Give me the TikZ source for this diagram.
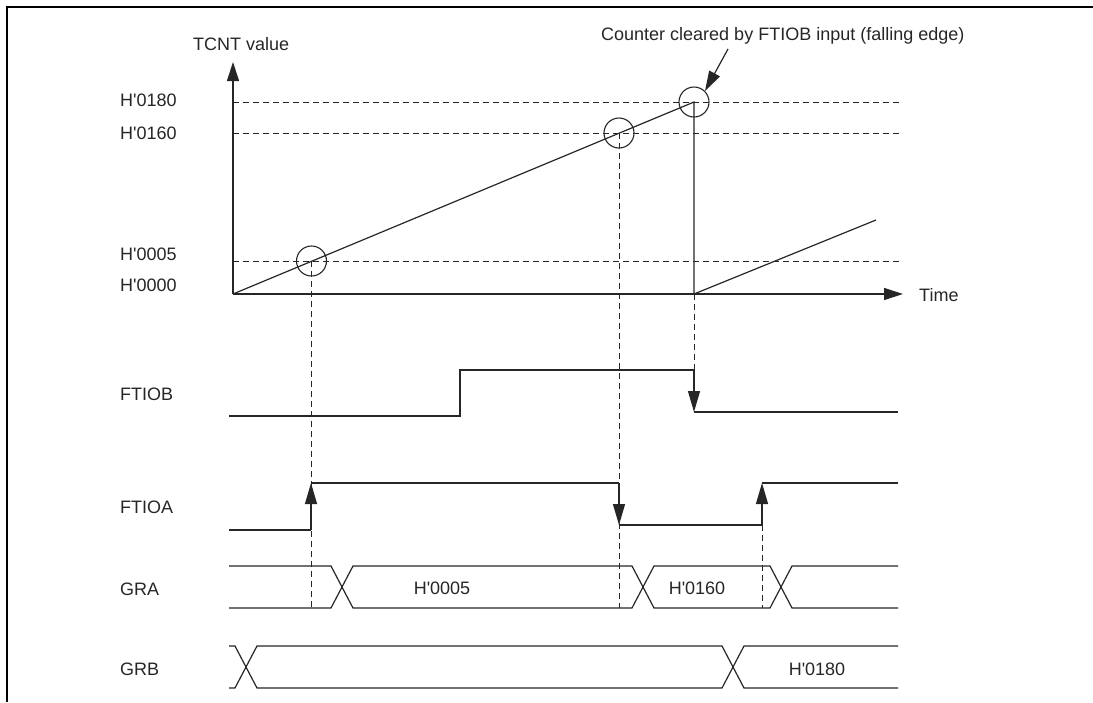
\documentclass[tikz,border=0pt]{standalone}
\usepackage{fontspec}
\setmainfont{Liberation Sans}
\usetikzlibrary{arrows.meta}
\newcommand{\hx}{H\textquotesingle}
\begin{document}
\begin{tikzpicture}[x=1pt,y=-1pt,
  txt/.style={inner sep=0pt,font=\fontsize{18}{21}\selectfont,text=black!85},
  lbl/.style={txt,anchor=base west},
  val/.style={txt,anchor=base},
  sig/.style={line width=1.2pt,black!85},
  guide/.style={line width=1pt,black!85,dash pattern=on 6pt off 4pt},
  edge/.style={sig,-{Triangle[length=21pt,width=12pt]}},
  axisarrow/.style={sig,-{Triangle[length=19pt,width=12pt]}},
  matchcircle/.style={circle,draw,line width=1.1pt,black!85,minimum size=30pt,inner sep=0pt}]
\useasboundingbox (0,0) rectangle (1093,702);
% frame
\draw[line width=2.4pt] (7,702) -- (7,7) -- (1093,7);
% axes
\coordinate (O) at (233,294);
\coordinate (Ytip) at (233,62);
\coordinate (Xtip) at (903,294);
\draw[axisarrow] (O) -- (Ytip);
\draw[axisarrow] (O) -- (Xtip);
\node[lbl] (tcnt) at (193,50) {TCNT value};
\node[lbl] (time) at (919,301) {Time};
\node[lbl] (l180) at (120,106.7) {\hx0180};
\node[lbl] (l160) at (120,139.3) {\hx0160};
\node[lbl] (l005) at (120,260.7) {\hx0005};
\node[lbl] (l000) at (120,291.7) {\hx0000};
% compare levels
\coordinate (h180a) at (233,102); \coordinate (h180b) at (900,102);
\coordinate (h160a) at (233,133); \coordinate (h160b) at (900,133);
\coordinate (h005a) at (233,261); \coordinate (h005b) at (900,261);
\draw[guide] (h180a) -- (h180b);
\draw[guide] (h160a) -- (h160b);
\draw[guide] (h005a) -- (h005b);
% counter ramp
\coordinate (peak) at (694,102);
\coordinate (clr) at (694,294);
\coordinate (ramp2) at (876,220);
\draw[sig] (O) -- (peak) -- (clr) -- (ramp2);
% match circles
\node[matchcircle] (c005) at (311.5,261) {};
\node[matchcircle] (c160) at (619,133) {};
\node[matchcircle] (c180) at (694,102) {};
% annotation
\node[lbl] (note) at (601,40.7) {Counter cleared by FTIOB input (falling edge)};
\coordinate (noteS) at (728,49);
\draw[sig,-{Triangle[length=20pt,width=12pt]}] (noteS) -- (c180.north east);
% signal labels
\node[lbl] (nB) at (120,400) {FTIOB};
\node[lbl] (nA) at (120,513) {FTIOA};
\node[lbl] (nGRA) at (120,595) {GRA};
\node[lbl] (nGRB) at (120,675) {GRB};
% FTIOB
\coordinate (b0) at (229,416); \coordinate (b1) at (460,416);
\coordinate (b2) at (460,370); \coordinate (b3) at (694,370);
\coordinate (b4) at (694,412); \coordinate (b5) at (898,412);
\draw[sig] (b0) -- (b1) -- (b2) -- (b3);
\draw[edge] (b3) -- (b4);
\draw[sig] (b4) -- (b5);
% FTIOA
\coordinate (a0) at (229,530); \coordinate (a1) at (311,530);
\coordinate (a2) at (311,483); \coordinate (a3) at (619,483);
\coordinate (a4) at (619,525); \coordinate (a5) at (762,525);
\coordinate (a6) at (762,483); \coordinate (a7) at (898,483);
\draw[sig] (a0) -- (a1);
\draw[edge] (a1) -- (a2);
\draw[sig] (a2) -- (a3);
\draw[edge] (a3) -- (a4);
\draw[sig] (a4) -- (a5);
\draw[edge] (a5) -- (a6);
\draw[sig] (a6) -- (a7);
% GRA bus
\draw[sig] (229,566) -- (331,566) -- (353,608) -- (632,608) -- (654,566) -- (770,566) -- (792,608) -- (898,608);
\draw[sig] (229,608) -- (331,608) -- (353,566) -- (632,566) -- (654,608) -- (770,608) -- (792,566) -- (898,566);
\node[val] (g005) at (442,594.4) {\hx0005};
\node[val] (g160) at (697,594.4) {\hx0160};
% GRB bus
\draw[sig] (229,646) -- (235,646) -- (257,688) -- (722,688) -- (744,646) -- (898,646);
\draw[sig] (229,688) -- (235,688) -- (257,646) -- (722,646) -- (744,688) -- (898,688);
\node[val] (g180) at (817,675) {\hx0180};
% vertical guides
\coordinate (v1b) at (311,608);
\coordinate (v2a) at (619,133); \coordinate (v2b) at (619,608);
\coordinate (v4b) at (762,608);
\draw[guide] (311,261) -- (v1b);
\draw[guide] (v2a) -- (v2b);
\draw[guide] (clr) -- (b3);
\draw[guide] (a5) -- (v4b);
\end{tikzpicture}
\end{document}
